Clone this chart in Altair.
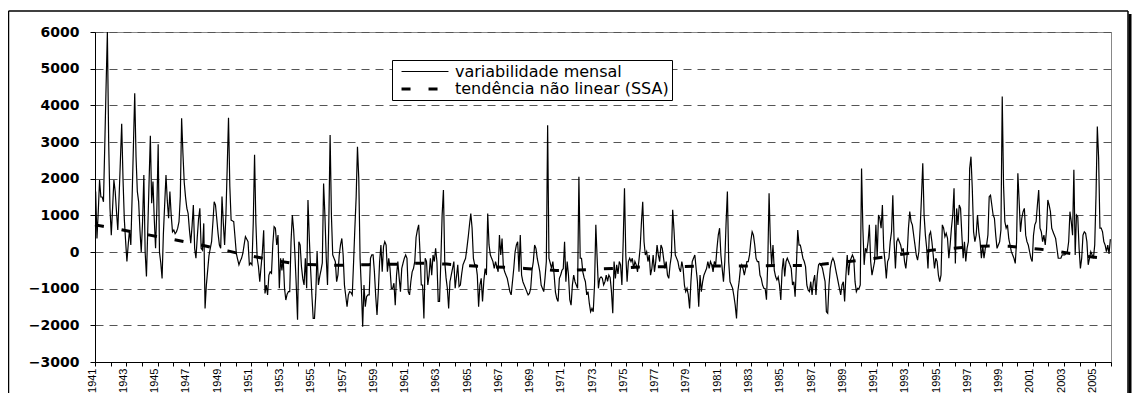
import altair as alt
import pandas as pd

# ---- monthly variability (one list per year, Jan..Dec) ----
v1941 = [1650, 370, 1100, 1960, 1500, 1500, 1370, 2900, 4500, 6000, 3000, 1200]
v1942 = [460, 1200, 1960, 1650, 1100, 600, 1500, 2500, 3500, 2000, 900, 300]
v1943 = [-260, 200, 600, 190, 1500, 2900, 4330, 2600, 1650, 1370, 600, 0]
v1944 = [800, 2100, 0, -670, 600, 1900, 3170, 1330, 1920, 900, 100, 1200]
v1945 = [2940, 0, -300, -720, 500, 1300, 2100, 1400, 920, 1650, 1000, 550]
v1946 = [600, 500, 550, 650, 830, 1500, 3650, 2700, 1900, 1500, 1200, 1050]
v1947 = [600, 240, 700, 1280, 100, -170, 400, 900, 1190, 100, 50, 780]
v1948 = [-1540, -900, -500, -100, 100, 280, 800, 1370, 1280, 900, 500, 190]
v1949 = [100, 1510, 800, 190, 1000, 2300, 3660, 1800, 870, 850, 830, 400]
v1950 = [-40, -200, -350, -250, -170, -40, 200, 420, 350, 280, -350, -300]
v1951 = [-350, 800, 2650, 800, -170, -400, -810, -400, 0, 590, -1130, -900]
v1952 = [-1170, -630, -540, -580, 200, 690, 650, 190, 460, -990, -170, -500]
v1953 = [-170, -990, -1310, -1150, -1080, -1080, 280, 1010, 600, -80, -900, -1850]
v1954 = [280, 190, -400, -720, -900, -170, -990, 1420, 400, -450, -1170, -1810]
v1955 = [-1810, -1170, 30, -900, -670, -500, -300, 1870, 1010, -130, -900, 800]
v1956 = [3190, 1000, -80, -170, -260, -810, -630, -80, 200, 370, -80, -900]
v1957 = [-1200, -1490, -1170, -1080, -1100, -1170, -300, 650, 1500, 2870, 2010, -170]
v1958 = [-1000, -2040, -900, -1490, -1220, -1170, -1170, -170, -80, -80, -540, -1200]
v1959 = [-1720, -1080, -260, 190, -540, 150, 280, 190, -540, -170, -450, -990]
v1960 = [-990, -850, -1450, -630, -260, -700, -1080, -450, -300, -170, -80, -170]
v1961 = [-1080, -1170, -800, -540, -450, -260, 400, 600, 740, 0, -900, -900]
v1962 = [-1810, -170, -260, -900, -630, -170, -630, -80, -260, 100, -260, -1350]
v1963 = [-1350, -260, 1010, 1690, -260, -700, -990, -1540, -810, -630, -450, -260]
v1964 = [-990, -670, -350, -940, -900, -600, -350, -260, -170, 100, 400, 740]
v1965 = [1050, 650, -170, -350, -350, -630, -1490, -900, -720, -1350, -800, -450]
v1966 = [-630, 1050, 200, -80, -170, -260, -450, -260, -400, -540, 460, -80]
v1967 = [370, -400, -540, -630, -720, -900, -1080, -1170, -810, -450, 0, 190]
v1968 = [280, -540, 460, -630, -810, -900, -990, -1080, -1170, -1130, -990, -500]
v1969 = [-260, 190, 100, -170, -350, -540, -900, -990, -1080, -700, -260, 3460]
v1970 = [-170, -300, -450, -260, -630, -1100, -1270, -1350, -720, -630, -500, -450]
v1971 = [280, -810, -260, -630, -1300, -1450, -900, -630, -810, -900, -990, 2050]
v1972 = [-170, -170, -540, -700, -810, -1170, -1080, -1400, -1630, -1540, -1630, -900]
v1973 = [740, -170, -990, -720, -680, -720, -900, -810, -630, -800, -630, -700]
v1974 = [-1080, -1670, -260, -720, -350, -600, -260, -350, -900, 280, 1740, -80]
v1975 = [-810, -260, -170, -260, -170, -450, -260, -350, -540, -260, 100, 800]
v1976 = [1370, 280, -80, 10, -260, -80, -630, -450, -80, -540, -260, 190]
v1977 = [-80, -260, 190, 100, -170, -450, -260, -630, -720, -350, -100, 1150]
v1978 = [600, -80, -170, -260, -450, -540, -260, -450, -900, -1080, -990, -1170]
v1979 = [-1540, -810, -260, -170, -80, -450, -810, -1490, -630, -1080, -810, -630]
v1980 = [-540, -450, -260, -450, -260, -350, -540, -260, -350, 100, 460, 650]
v1981 = [-80, -450, -810, -260, 800, 1650, -260, -810, -900, -990, -1200, -1450]
v1982 = [-1810, -1080, -810, -450, -350, -450, -630, -450, -260, -260, -80, 300]
v1983 = [550, 460, 190, -170, -260, -260, -630, -720, -900, -990, -1000, -1300]
v1984 = [-300, 1600, 280, -350, 190, -500, -670, -760, -680, -900, -1310, -500]
v1985 = [-170, -670, -260, -170, -260, -350, -450, -900, -810, -1220, -350, 600]
v1986 = [190, 190, 10, -170, -260, -400, -900, -1040, -1080, -810, -1170, -810]
v1987 = [-630, -1170, -630, -350, -310, -350, -450, -630, -810, -1630, -1670, -900]
v1988 = [-450, -260, -170, -260, -450, -630, -810, -990, -1170, -900, -810, -1350]
v1989 = [-630, -80, -630, -260, -170, -80, -170, -810, -1080, -990, -1000, -900]
v1990 = [2280, 650, -350, 100, 10, 280, 740, -260, -630, -450, -260, 740]
v1991 = [-130, 1010, 920, 650, 1280, 100, -260, -720, -260, -170, 280, 550]
v1992 = [1550, 280, -450, 280, 370, 280, 190, 10, 100, -260, -450, -80]
v1993 = [650, 1100, 830, 740, 460, 190, -80, -220, 10, 650, 1500, 2420]
v1994 = [1010, 460, 100, -450, 460, 550, 280, -80, -450, -170, -260, -630]
v1995 = [-810, -630, 740, 650, 420, 510, 370, -170, 190, 650, 1010, 1740]
v1996 = [-310, 1190, 740, 1280, 1190, 460, -170, 280, -260, 100, 280, 2280]
v1997 = [2600, 1740, 550, 280, 460, 1010, 550, 280, -170, 190, -170, 100]
v1998 = [190, 460, 1510, 1550, 1280, 1010, 920, 460, 100, 190, 280, 600]
v1999 = [4240, 1830, 830, 650, 740, 370, 190, 10, -80, -170, -310, 280]
v2000 = [2150, 1370, 550, 920, 1100, 1190, 460, 280, 190, 10, -170, -260]
v2001 = [460, 740, 830, 1280, 1690, 650, 550, 280, 460, 190, 600, 1420]
v2002 = [1280, 1100, 650, 550, 460, 370, 100, -170, -170, -170, -80, -80]
v2003 = [-80, -40, 10, 280, 1100, 830, 460, 2240, -80, 1010, 960, 100]
v2004 = [-450, -170, 460, 550, 510, 280, -350, -170, 10, -80, -170, 190]
v2005 = [1550, 3420, 2560, 650, 650, 550, 280, 190, 10, 190, -50, 350]

yearly = [v1941, v1942, v1943, v1944, v1945, v1946, v1947, v1948, v1949, v1950,
          v1951, v1952, v1953, v1954, v1955, v1956, v1957, v1958, v1959, v1960,
          v1961, v1962, v1963, v1964, v1965, v1966, v1967, v1968, v1969, v1970,
          v1971, v1972, v1973, v1974, v1975, v1976, v1977, v1978, v1979, v1980,
          v1981, v1982, v1983, v1984, v1985, v1986, v1987, v1988, v1989, v1990,
          v1991, v1992, v1993, v1994, v1995, v1996, v1997, v1998, v1999, v2000,
          v2001, v2002, v2003, v2004, v2005]
first_year = 1941

# ---- non-linear trend (SSA): start, mid-year points, end ----
trend_values = [740,
                700, 620, 540, 460, 380, 300, 220, 120, 30, -70,
                -150, -230, -300, -340, -355, -360, -355, -345, -338, -330,
                -305, -310, -330, -360, -390, -405, -420, -450, -475, -505,
                -500, -480, -460, -445, -415, -405, -400, -395, -390, -382,
                -380, -380, -378, -370, -368, -368, -335, -290, -245, -190,
                -140, -70, -10, 45, 90, 125, 155, 165, 155, 115,
                75, 20, -45, -120, -170,
                -200]

# axis tick values and labels
x_ticks = list(range(1941, 2007))
y_ticks = [-3000, -2000, -1000, 0, 1000, 2000, 3000, 4000, 5000, 6000]

S1 = "variabilidade mensal"
S2 = "tendência não linear (SSA)"

rows = []
for i, vals in enumerate(yearly):
    for m, v in enumerate(vals):
        rows.append({"t": first_year + i + (m + 0.5) / 12, "v": v, "serie": S1})
monthly = pd.DataFrame(rows)

trend_t = [first_year] + [first_year + i + 0.5 for i in range(len(yearly))] + [first_year + len(yearly)]
trend = pd.DataFrame({"t": trend_t, "v": trend_values, "serie": S2})

W, H = 1016, 330

xscale = alt.Scale(domain=[1941, 2006], nice=False, zero=False)
yscale = alt.Scale(domain=[-3000, 6000], nice=False, zero=False)

leg = alt.Legend(title=None, orient="none", legendX=297, legendY=28, direction="vertical",
                 strokeColor="black", fillColor="white", padding=3,
                 labelFont="DejaVu Sans", labelFontSize=16, labelColor="black",
                 symbolType="M-0.33,0H5.93", symbolSize=225, symbolStrokeColor="black",
                 symbolFillColor="transparent",
                 labelOffset=42, rowPadding=0, labelLimit=600)

dash_enc = alt.StrokeDash("serie:N", scale=alt.Scale(domain=[S1, S2], range=[[1, 0], [9, 18]]), legend=leg)
width_enc = alt.StrokeWidth("serie:N", scale=alt.Scale(domain=[S1, S2], range=[1.2, 3]), legend=leg)

xaxis = alt.Axis(values=x_ticks,
                 labelExpr="datum.value % 2 == 1 ? '' + datum.value : ''",
                 labelAngle=270, labelAlign="right", labelBaseline="alphabetic",
                 labelFont="Liberation Sans", labelFontSize=11, labelColor="black",
                 labelPadding=2, tickSize=4, tickColor="black", domainColor="black",
                 labelOverlap=False, labelFlush=False, labelBound=False, grid=False, title=None)
yaxis = alt.Axis(values=y_ticks, format="d",
                 labelFont="DejaVu Sans", labelFontWeight="bold", labelFontSize=14,
                 labelColor="black", labelPadding=11, tickSize=5, tickColor="black",
                 domainColor="black", grid=True, gridColor="#555", gridDash=[8, 6],
                 gridWidth=1, labelFlush=False, labelOverlap=False, title=None)

line = alt.Chart(monthly).mark_line(color="black").encode(
    x=alt.X("t:Q", scale=xscale, axis=xaxis),
    y=alt.Y("v:Q", scale=yscale, axis=yaxis),
    strokeDash=dash_enc,
    strokeWidth=width_enc,
)

trend_line = alt.Chart(trend).mark_line(color="black").encode(
    x=alt.X("t:Q", scale=xscale, axis=xaxis),
    y=alt.Y("v:Q", scale=yscale, axis=yaxis),
    strokeDash=dash_enc,
    strokeWidth=width_enc,
)

# decorative outer frame (the picture's border and its right-hand shadow)
dummy = pd.DataFrame({"a": [0]})
frame_top = alt.Chart(dummy).mark_rule(color="black", strokeWidth=1.5).encode(
    x=alt.value(-86.5), x2=alt.value(1033), y=alt.value(-21))
frame_left = alt.Chart(dummy).mark_rule(color="black", strokeWidth=1.5).encode(
    x=alt.value(-86.5), y=alt.value(-21), y2=alt.value(375))
frame_right = alt.Chart(dummy).mark_rule(color="black", strokeWidth=1.5).encode(
    x=alt.value(1033), y=alt.value(-21), y2=alt.value(375))
frame_shadow = alt.Chart(dummy).mark_rule(color="black", strokeWidth=3).encode(
    x=alt.value(1035), y=alt.value(-18), y2=alt.value(375))

chart = alt.layer(line, trend_line, frame_top, frame_left, frame_right, frame_shadow).properties(
    width=W, height=H,
    autosize=alt.AutoSizeParams(type="none"),
    padding={"left": 87, "top": 24, "right": 21, "bottom": 31},
    background="white",
).configure_view(stroke="#888", strokeWidth=1).configure_axis(labelOverlap=False)

chart.save("out.html", embed_options={"renderer": "svg", "actions": False})
